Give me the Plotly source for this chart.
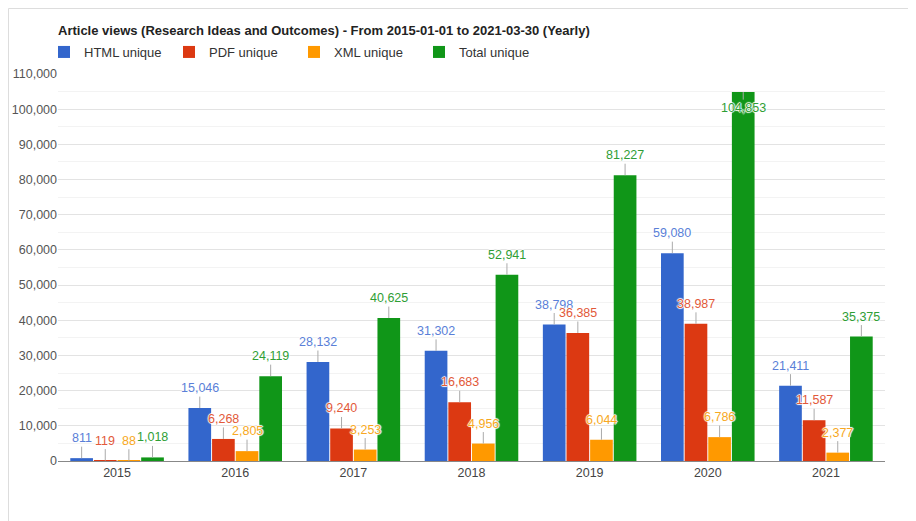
import plotly.graph_objects as go

years = ["2015", "2016", "2017", "2018", "2019", "2020", "2021"]
html_unique = [811, 15046, 28132, 31302, 38798, 59080, 21411]
pdf_unique = [119, 6268, 9240, 16683, 36385, 38987, 11587]
xml_unique = [88, 2805, 3253, 4956, 6044, 6786, 2377]
total_unique = [1018, 24119, 40625, 52941, 81227, 104853, 35375]

series_names = ["HTML unique", "PDF unique", "XML unique", "Total unique"]
series_values = [html_unique, pdf_unique, xml_unique, total_unique]
bar_colors = ["#3366cc", "#dc3912", "#ff9900", "#109618"]
label_colors = ["#5a7fd8", "#e2593a", "#f7a823", "#2f9e35"]

y_ticks = list(range(0, 110001, 10000))
y_max = 110000

FONT = "Arial, Liberation Sans, sans-serif"
BARGAP = 0.2

# page body has an 8px margin, so the figure is laid out in a 908x513 box
W, H = 908, 513
L, R, T, B = 50, 31, 66, 60
PW, PH = W - L - R, H - T - B

fig = go.Figure()
for name, vals, col in zip(series_names, series_values, bar_colors):
    fig.add_trace(go.Bar(name=name, x=list(range(len(years))), y=vals,
                         marker=dict(color=col, line=dict(width=0))))

n = len(series_names)
gw = 1 - BARGAP
annotations = []
for k, (vals, lc) in enumerate(zip(series_values, label_colors)):
    for i, v in enumerate(vals):
        xpos = i - gw / 2 + (k + 0.5) * gw / n
        inside = v > 0.9 * y_max
        annotations.append(dict(
            x=xpos, y=v, xref="x", yref="y", text=f"{v:,}",
            showarrow=True, arrowhead=0, arrowwidth=1, arrowcolor="#aaaaaa",
            ax=0, ay=16 if inside else -20, standoff=0,
            font=dict(family=FONT, size=12.5, color=lc,
                      shadow="1px 0 1px #fff, -1px 0 1px #fff, 0 1px 1px #fff, 0 -1px 1px #fff"),
        ))

fig.update_layout(
    width=W, height=H,
    margin=dict(l=L, r=R, t=T, b=B, autoexpand=False),
    paper_bgcolor="white", plot_bgcolor="white",
    barmode="group", bargap=BARGAP, bargroupgap=0.04,
    font=dict(family=FONT, size=12, color="#444"),
    title=dict(text="<b>Article views (Research Ideas and Outcomes) - From 2015-01-01 to 2021-03-30 (Yearly)</b>",
               x=L / W, xanchor="left", y=1 - 22 / H, yanchor="middle",
               font=dict(family=FONT, size=13, color="#222")),
    legend=dict(orientation="h", x=-14 / PW, xanchor="left", y=(PH + T - 44) / PH, yanchor="middle",
                font=dict(family=FONT, size=13, color="#333"), bgcolor="rgba(0,0,0,0)",
                traceorder="normal", entrywidth=80, entrywidthmode="pixels"),
    xaxis=dict(tickmode="array", tickvals=list(range(len(years))), ticktext=years,
               range=[-0.5, len(years) - 0.5], showgrid=False, showline=True,
               linecolor="#888", linewidth=1, ticks="", automargin=False,
               tickfont=dict(size=12.5, color="#444")),
    yaxis=dict(range=[0, y_max], tickvals=y_ticks, tickformat=",d", showgrid=True,
               gridcolor="#e3e3e3", zeroline=False, ticks="", automargin=False,
               tickfont=dict(size=12.5, color="#555"),
               minor=dict(dtick=5000, showgrid=True, gridcolor="#f3f3f3")),
    annotations=annotations,
    shapes=[dict(type="rect", xref="paper", yref="paper", layer="below",
                 x0=(0.5 - L) / PW, x1=1.2, y0=-0.3, y1=(PH + T - 0.5) / PH,
                 line=dict(color="#dddddd", width=1), fillcolor="rgba(0,0,0,0)")],
)

fig.write_html("out.html")
